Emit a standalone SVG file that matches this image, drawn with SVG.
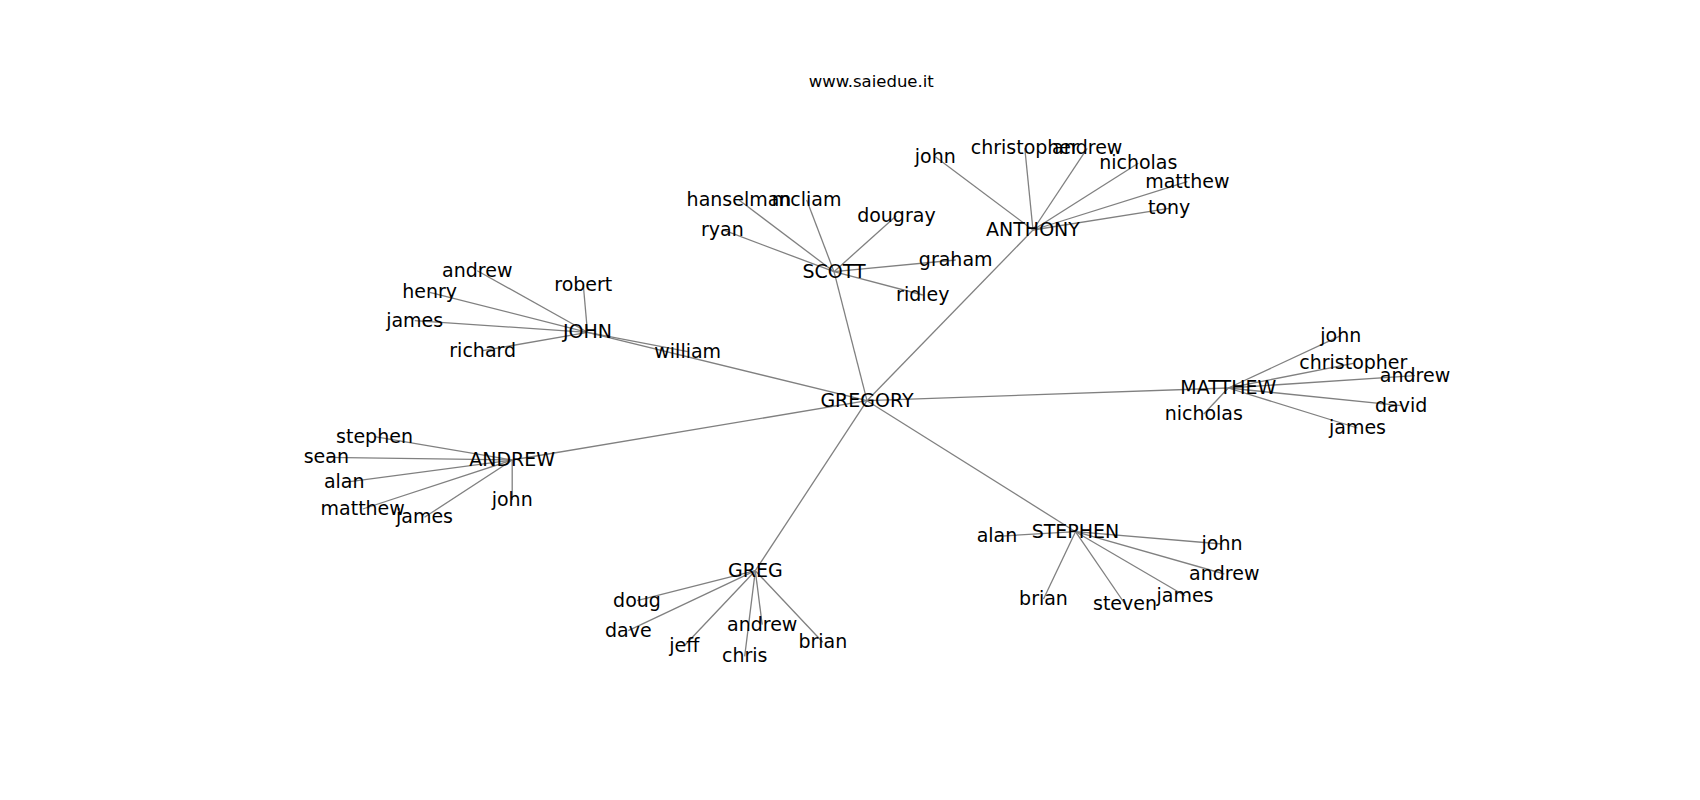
<svg xmlns="http://www.w3.org/2000/svg" width="1700" height="800" viewBox="0 0 1700 800">
<style>
.bg{fill:#ffffff}
.e{stroke:#808080;stroke-width:1.3;fill:none}
text{font-family:"DejaVu Sans","Liberation Sans",sans-serif;fill:#000000;text-anchor:middle}
.n text{font-size:19px}
.title{font-size:16.5px}
</style>
<rect class="bg" x="0" y="0" width="1700" height="800"/>
<text class="title" x="871.3" y="87">www.saiedue.it</text>
<g id="edges">
<line class="e" x1="867" y1="400.7" x2="834" y2="271.7"/>
<line class="e" x1="867" y1="400.7" x2="1033" y2="230"/>
<line class="e" x1="867" y1="400.7" x2="587.5" y2="332.3"/>
<line class="e" x1="867" y1="400.7" x2="512.2" y2="460"/>
<line class="e" x1="867" y1="400.7" x2="1228.3" y2="388"/>
<line class="e" x1="867" y1="400.7" x2="755.3" y2="570.7"/>
<line class="e" x1="867" y1="400.7" x2="1075.5" y2="531.7"/>
<line class="e" x1="834" y1="271.7" x2="739" y2="200"/>
<line class="e" x1="834" y1="271.7" x2="806.7" y2="200"/>
<line class="e" x1="834" y1="271.7" x2="896.4" y2="215.7"/>
<line class="e" x1="834" y1="271.7" x2="722.4" y2="229.7"/>
<line class="e" x1="834" y1="271.7" x2="955.7" y2="260"/>
<line class="e" x1="834" y1="271.7" x2="922.8" y2="295"/>
<line class="e" x1="1033" y1="230" x2="935.3" y2="156.7"/>
<line class="e" x1="1033" y1="230" x2="1024.8" y2="148.3"/>
<line class="e" x1="1033" y1="230" x2="1087.2" y2="148.3"/>
<line class="e" x1="1033" y1="230" x2="1138.3" y2="163.3"/>
<line class="e" x1="1033" y1="230" x2="1187.3" y2="181.7"/>
<line class="e" x1="1033" y1="230" x2="1169.2" y2="208.3"/>
<line class="e" x1="587.5" y1="332.3" x2="477.3" y2="270.7"/>
<line class="e" x1="587.5" y1="332.3" x2="583.3" y2="285"/>
<line class="e" x1="587.5" y1="332.3" x2="429.7" y2="292.3"/>
<line class="e" x1="587.5" y1="332.3" x2="414.7" y2="320.7"/>
<line class="e" x1="587.5" y1="332.3" x2="482.7" y2="350.7"/>
<line class="e" x1="587.5" y1="332.3" x2="687.7" y2="351.7"/>
<line class="e" x1="512.2" y1="460" x2="374.5" y2="436.7"/>
<line class="e" x1="512.2" y1="460" x2="326.3" y2="457.3"/>
<line class="e" x1="512.2" y1="460" x2="344.2" y2="482.3"/>
<line class="e" x1="512.2" y1="460" x2="362.7" y2="509"/>
<line class="e" x1="512.2" y1="460" x2="424.5" y2="517.3"/>
<line class="e" x1="512.2" y1="460" x2="512.2" y2="500"/>
<line class="e" x1="1228.3" y1="388" x2="1340.8" y2="335.7"/>
<line class="e" x1="1228.3" y1="388" x2="1353.3" y2="363.3"/>
<line class="e" x1="1228.3" y1="388" x2="1415" y2="375.7"/>
<line class="e" x1="1228.3" y1="388" x2="1401.2" y2="405.7"/>
<line class="e" x1="1228.3" y1="388" x2="1357.5" y2="428"/>
<line class="e" x1="1228.3" y1="388" x2="1203.8" y2="414"/>
<line class="e" x1="755.3" y1="570.7" x2="637" y2="600.7"/>
<line class="e" x1="755.3" y1="570.7" x2="628.3" y2="630.7"/>
<line class="e" x1="755.3" y1="570.7" x2="684.3" y2="645.7"/>
<line class="e" x1="755.3" y1="570.7" x2="762.2" y2="624.7"/>
<line class="e" x1="755.3" y1="570.7" x2="744.7" y2="656.3"/>
<line class="e" x1="755.3" y1="570.7" x2="822.8" y2="642.3"/>
<line class="e" x1="1075.5" y1="531.7" x2="997" y2="536.3"/>
<line class="e" x1="1075.5" y1="531.7" x2="1222" y2="544"/>
<line class="e" x1="1075.5" y1="531.7" x2="1224.3" y2="574"/>
<line class="e" x1="1075.5" y1="531.7" x2="1185" y2="595.7"/>
<line class="e" x1="1075.5" y1="531.7" x2="1125" y2="604"/>
<line class="e" x1="1075.5" y1="531.7" x2="1043.5" y2="599"/>
</g>
<g class="n">
<g id="n-gregory"><text x="867" y="406.7">GREGORY</text></g>
<g id="n-scott"><text x="834" y="277.7">SCOTT</text></g>
<g id="n-anthony"><text x="1033" y="236">ANTHONY</text></g>
<g id="n-john"><text x="587.5" y="338.3">JOHN</text></g>
<g id="n-andrew"><text x="512.2" y="466">ANDREW</text></g>
<g id="n-matthew"><text x="1228.3" y="394">MATTHEW</text></g>
<g id="n-greg"><text x="755.3" y="576.7">GREG</text></g>
<g id="n-stephen"><text x="1075.5" y="537.7">STEPHEN</text></g>

<g id="scott-hanselman"><text x="739" y="206">hanselman</text></g>
<g id="scott-mcliam"><text x="806.7" y="206">mcliam</text></g>
<g id="scott-dougray"><text x="896.4" y="221.7">dougray</text></g>
<g id="scott-ryan"><text x="722.4" y="235.7">ryan</text></g>
<g id="scott-graham"><text x="955.7" y="266">graham</text></g>
<g id="scott-ridley"><text x="922.8" y="301">ridley</text></g>

<g id="anthony-john"><text x="935.3" y="162.7">john</text></g>
<g id="anthony-christopher"><text x="1024.8" y="154.3">christopher</text></g>
<g id="anthony-andrew"><text x="1087.2" y="154.3">andrew</text></g>
<g id="anthony-nicholas"><text x="1138.3" y="169.3">nicholas</text></g>
<g id="anthony-matthew"><text x="1187.3" y="187.7">matthew</text></g>
<g id="anthony-tony"><text x="1169.2" y="214.3">tony</text></g>

<g id="john-andrew"><text x="477.3" y="276.7">andrew</text></g>
<g id="john-robert"><text x="583.3" y="291">robert</text></g>
<g id="john-henry"><text x="429.7" y="298.3">henry</text></g>
<g id="john-james"><text x="414.7" y="326.7">james</text></g>
<g id="john-richard"><text x="482.7" y="356.7">richard</text></g>
<g id="john-william"><text x="687.7" y="357.7">william</text></g>

<g id="andrew-stephen"><text x="374.5" y="442.7">stephen</text></g>
<g id="andrew-sean"><text x="326.3" y="463.3">sean</text></g>
<g id="andrew-alan"><text x="344.2" y="488.3">alan</text></g>
<g id="andrew-matthew"><text x="362.7" y="515">matthew</text></g>
<g id="andrew-james"><text x="424.5" y="523.3">james</text></g>
<g id="andrew-john"><text x="512.2" y="506">john</text></g>

<g id="matthew-john"><text x="1340.8" y="341.7">john</text></g>
<g id="matthew-christopher"><text x="1353.3" y="369.3">christopher</text></g>
<g id="matthew-andrew"><text x="1415" y="381.7">andrew</text></g>
<g id="matthew-david"><text x="1401.2" y="411.7">david</text></g>
<g id="matthew-james"><text x="1357.5" y="434">james</text></g>
<g id="matthew-nicholas"><text x="1203.8" y="420">nicholas</text></g>

<g id="greg-doug"><text x="637" y="606.7">doug</text></g>
<g id="greg-dave"><text x="628.3" y="636.7">dave</text></g>
<g id="greg-jeff"><text x="684.3" y="651.7">jeff</text></g>
<g id="greg-andrew"><text x="762.2" y="630.7">andrew</text></g>
<g id="greg-chris"><text x="744.7" y="662.3">chris</text></g>
<g id="greg-brian"><text x="822.8" y="648.3">brian</text></g>

<g id="stephen-alan"><text x="997" y="542.3">alan</text></g>
<g id="stephen-john"><text x="1222" y="550">john</text></g>
<g id="stephen-andrew"><text x="1224.3" y="580">andrew</text></g>
<g id="stephen-james"><text x="1185" y="601.7">james</text></g>
<g id="stephen-steven"><text x="1125" y="610">steven</text></g>
<g id="stephen-brian"><text x="1043.5" y="605">brian</text></g>
</g>
</svg>
